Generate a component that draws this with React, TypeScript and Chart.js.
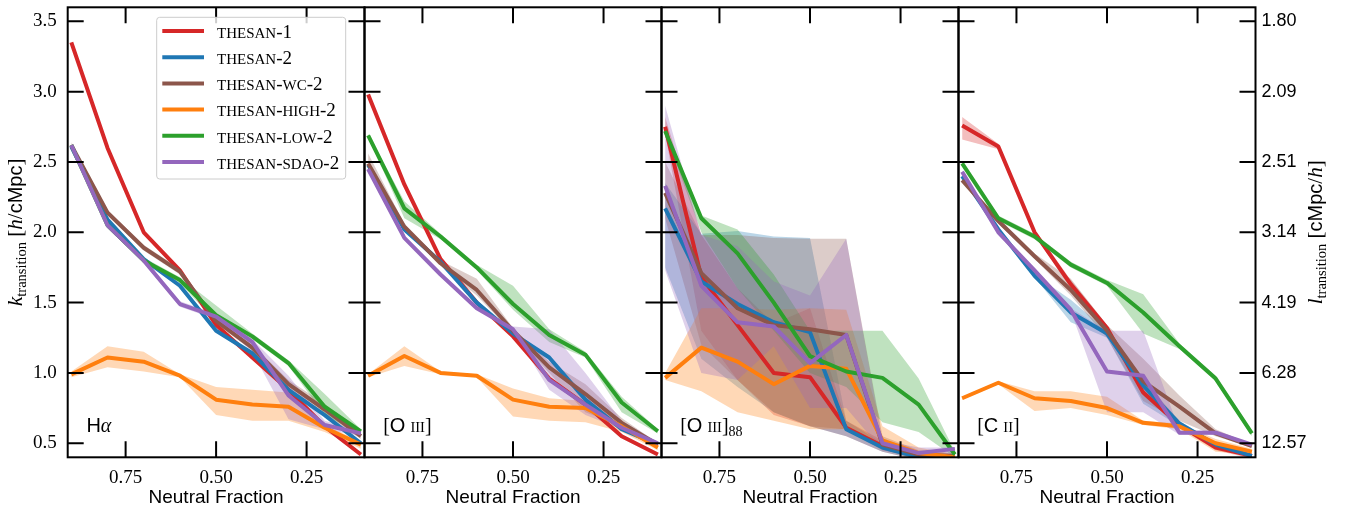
import React, { useEffect, useRef } from 'react';
import { Chart, registerables } from 'chart.js';

Chart.register(...registerables);

const W = 1349;
const H = 510;

// ---------- shared axes ----------
const neutralFraction = [0.9, 0.8, 0.7, 0.6, 0.5, 0.4, 0.3, 0.2, 0.1];
const xTicks = [0.75, 0.5, 0.25];
const yTicks = [0.5, 1.0, 1.5, 2.0, 2.5, 3.0, 3.5];
const rightTickLabels = ['12.57', '6.28', '4.19', '3.14', '2.51', '2.09', '1.80'];
const seriesNames = ['THESAN-1', 'THESAN-2', 'THESAN-WC-2', 'THESAN-HIGH-2', 'THESAN-LOW-2', 'THESAN-SDAO-2'];
const seriesColors = ['#d62728', '#1f77b4', '#8c564b', '#ff7f0e', '#2ca02c', '#9467bd'];

// ---------- panel 1: H-alpha ----------
const haThesan1 = [3.35, 2.60, 2.00, 1.73, 1.34, 1.11, 0.88, 0.62, 0.42];
const haThesan2 = [2.61, 2.09, 1.81, 1.62, 1.30, 1.14, 0.88, 0.70, 0.50];
const haWc2 = [2.62, 2.14, 1.89, 1.72, 1.37, 1.18, 0.92, 0.74, 0.55];
const haHigh2 = [0.99, 1.11, 1.08, 0.98, 0.81, 0.775, 0.76, 0.61, 0.49];
const haLow2 = [2.62, 2.05, 1.80, 1.66, 1.41, 1.26, 1.07, 0.76, 0.585];
const haSdao2 = [2.62, 2.05, 1.80, 1.49, 1.40, 1.22, 0.84, 0.63, 0.57];
const haHigh2Lo = [0.97, 1.04, 1.01, 0.97, 0.70, 0.66, 0.66, 0.58, 0.46];
const haHigh2Hi = [1.01, 1.19, 1.15, 0.99, 0.90, 0.88, 0.86, 0.63, 0.51];
const haLow2Lo = [2.61, 2.03, 1.78, 1.64, 1.36, 1.24, 1.05, 0.70, 0.56];
const haLow2Hi = [2.63, 2.07, 1.82, 1.68, 1.48, 1.28, 1.09, 0.85, 0.60];
const haSdao2Lo = [2.61, 2.03, 1.78, 1.47, 1.38, 1.15, 0.67, 0.60, 0.55];
const haSdao2Hi = [2.63, 2.07, 1.82, 1.51, 1.42, 1.24, 0.98, 0.66, 0.59];
const haWc2Lo = [2.60, 2.12, 1.87, 1.70, 1.35, 1.16, 0.88, 0.70, 0.53];
const haWc2Hi = [2.64, 2.16, 1.91, 1.74, 1.39, 1.20, 0.95, 0.78, 0.57];

// ---------- panel 2: [O III] ----------
const o3Thesan1 = [2.98, 2.34, 1.81, 1.50, 1.26, 0.96, 0.775, 0.55, 0.42];
const o3Thesan2 = [2.48, 2.02, 1.79, 1.50, 1.28, 1.11, 0.81, 0.60, 0.49];
const o3Wc2 = [2.49, 2.04, 1.78, 1.59, 1.30, 1.04, 0.85, 0.645, 0.49];
const o3High2 = [0.98, 1.12, 1.00, 0.98, 0.81, 0.76, 0.75, 0.62, 0.47];
const o3Low2 = [2.69, 2.17, 1.97, 1.75, 1.49, 1.27, 1.13, 0.79, 0.585];
const o3Sdao2 = [2.45, 1.96, 1.70, 1.46, 1.31, 0.95, 0.775, 0.61, 0.50];
const o3High2Lo = [0.97, 1.05, 0.99, 0.97, 0.69, 0.66, 0.65, 0.58, 0.45];
const o3High2Hi = [0.99, 1.19, 1.01, 0.99, 0.89, 0.82, 0.80, 0.66, 0.49];
const o3Low2Lo = [2.68, 2.10, 1.95, 1.73, 1.45, 1.22, 1.11, 0.72, 0.57];
const o3Low2Hi = [2.70, 2.22, 1.99, 1.77, 1.62, 1.31, 1.15, 0.83, 0.60];
const o3Sdao2Lo = [2.44, 1.95, 1.69, 1.45, 1.30, 0.88, 0.70, 0.60, 0.49];
const o3Sdao2Hi = [2.46, 1.97, 1.71, 1.47, 1.33, 1.31, 1.00, 0.66, 0.51];
const o3Wc2Lo = [2.47, 2.02, 1.76, 1.55, 1.28, 1.00, 0.72, 0.62, 0.48];
const o3Wc2Hi = [2.56, 2.06, 1.80, 1.67, 1.32, 1.08, 0.92, 0.68, 0.50];

// ---------- panel 3: [O III]88 ----------
const o88Thesan1 = [2.75, 1.68, 1.34, 1.00, 0.97, 0.61, 0.48, 0.41, 0.39];
const o88Thesan2 = [2.17, 1.65, 1.49, 1.36, 1.29, 0.60, 0.47, 0.40, 0.39];
const o88Wc2 = [2.28, 1.71, 1.46, 1.34, 1.31, 1.27, 0.49, 0.42, 0.41];
const o88High2 = [0.965, 1.18, 1.08, 0.92, 1.05, 1.03, 0.52, 0.43, 0.40];
const o88Low2 = [2.72, 2.10, 1.85, 1.50, 1.12, 1.01, 0.965, 0.775, 0.42];
const o88Sdao2 = [2.33, 1.62, 1.36, 1.33, 1.07, 1.27, 0.50, 0.43, 0.46];
const o88Thesan1Lo = [2.70, 1.30, 0.95, 0.70, 0.62, 0.55, 0.44, 0.38, 0.36];
const o88Thesan1Hi = [2.82, 1.98, 1.60, 1.35, 1.46, 0.66, 0.52, 0.44, 0.40];
const o88Thesan2Lo = [1.75, 1.10, 0.90, 0.72, 0.62, 0.55, 0.44, 0.38, 0.37];
const o88Thesan2Hi = [2.35, 1.99, 2.01, 1.97, 1.96, 0.66, 0.50, 0.42, 0.40];
const o88Wc2Lo = [2.10, 1.20, 0.95, 0.72, 0.62, 0.60, 0.45, 0.40, 0.39];
const o88Wc2Hi = [2.50, 1.98, 1.98, 1.96, 1.955, 1.955, 0.55, 0.45, 0.43];
const o88High2Lo = [0.95, 0.87, 0.72, 0.66, 0.60, 0.60, 0.46, 0.38, 0.37];
const o88High2Hi = [1.00, 1.46, 1.46, 1.45, 1.46, 1.45, 0.62, 0.47, 0.42];
const o88Low2Lo = [2.70, 2.00, 1.60, 1.30, 1.00, 0.90, 0.65, 0.58, 0.40];
const o88Low2Hi = [2.74, 2.12, 2.02, 1.70, 1.30, 1.30, 1.30, 0.96, 0.44];
const o88Sdao2Lo = [1.73, 1.00, 0.95, 1.19, 0.75, 0.75, 0.45, 0.41, 0.42];
const o88Sdao2Hi = [2.90, 1.98, 1.90, 1.65, 1.55, 1.955, 0.52, 0.47, 0.47];

// ---------- panel 4: [C II] ----------
const c2Thesan1 = [2.76, 2.61, 2.00, 1.63, 1.32, 0.86, 0.63, 0.47, 0.41];
const c2Thesan2 = [2.40, 2.02, 1.69, 1.43, 1.28, 0.91, 0.64, 0.49, 0.41];
const c2Wc2 = [2.37, 2.08, 1.83, 1.59, 1.30, 0.94, 0.76, 0.57, 0.48];
const c2High2 = [0.82, 0.93, 0.82, 0.80, 0.75, 0.645, 0.62, 0.50, 0.44];
const c2Low2 = [2.49, 2.10, 1.97, 1.77, 1.64, 1.43, 1.19, 0.96, 0.57];
const c2Sdao2 = [2.43, 2.00, 1.73, 1.45, 1.01, 0.98, 0.575, 0.575, 0.49];
const c2Thesan1Lo = [2.66, 2.59, 1.98, 1.60, 1.30, 0.84, 0.61, 0.45, 0.39];
const c2Thesan1Hi = [2.82, 2.63, 2.02, 1.66, 1.34, 0.88, 0.65, 0.49, 0.43];
const c2Thesan2Lo = [2.39, 2.01, 1.68, 1.36, 1.25, 0.78, 0.62, 0.48, 0.40];
const c2Thesan2Hi = [2.41, 2.03, 1.70, 1.52, 1.30, 0.95, 0.66, 0.50, 0.42];
const c2Wc2Lo = [2.36, 2.06, 1.81, 1.55, 1.25, 0.80, 0.66, 0.55, 0.47];
const c2Wc2Hi = [2.38, 2.10, 1.85, 1.67, 1.34, 1.10, 0.84, 0.60, 0.49];
const c2High2Lo = [0.81, 0.92, 0.73, 0.75, 0.70, 0.63, 0.60, 0.44, 0.42];
const c2High2Hi = [0.83, 0.94, 0.87, 0.87, 0.83, 0.66, 0.64, 0.53, 0.46];
const c2Low2Lo = [2.48, 2.08, 1.95, 1.75, 1.62, 1.28, 1.17, 0.94, 0.55];
const c2Low2Hi = [2.50, 2.12, 1.99, 1.79, 1.66, 1.56, 1.21, 0.98, 0.59];
const c2Sdao2Lo = [2.42, 1.99, 1.72, 1.44, 0.72, 0.72, 0.56, 0.56, 0.48];
const c2Sdao2Hi = [2.44, 2.01, 1.74, 1.46, 1.30, 1.30, 0.59, 0.59, 0.50];

// ---------- fonts / text helpers ----------
const SERIF = '"Liberation Serif", "DejaVu Serif", serif';
const SANS = '"Liberation Sans", "DejaVu Sans", sans-serif';

type Part = { t: string; f: string; dy?: number };

const serif = (s: number, italic = false) => `${italic ? 'italic ' : ''}${s}px ${SERIF}`;
const sans = (s: number) => `${s}px ${SANS}`;

function partsWidth(ctx: CanvasRenderingContext2D, parts: Part[]) {
  let w = 0;
  for (const p of parts) {
    ctx.font = p.f;
    w += ctx.measureText(p.t).width;
  }
  return w;
}

function drawParts(ctx: CanvasRenderingContext2D, parts: Part[], x: number, y: number) {
  let cx = x;
  for (const p of parts) {
    ctx.font = p.f;
    ctx.fillText(p.t, cx, y + (p.dy || 0));
    cx += ctx.measureText(p.t).width;
  }
}

function smallCaps(text: string, big: number, small: number): Part[] {
  const out: Part[] = [];
  for (const ch of text) {
    const f = /[A-Z]/.test(ch) ? serif(small) : serif(big);
    const last = out[out.length - 1];
    if (last && last.f === f) last.t += ch;
    else out.push({ t: ch, f });
  }
  return out;
}

function rgba(hex: string, a: number) {
  const n = parseInt(hex.slice(1), 16);
  return `rgba(${(n >> 16) & 255},${(n >> 8) & 255},${n & 255},${a})`;
}

// ---------- panels ----------
type Band = [number[], number[]] | null;
interface PanelDef {
  lines: number[][];
  bands: Band[];
  label: Part[];
  left: number;
  right: number;
  showLeft: boolean;
  showRight: boolean;
  legend: boolean;
}

const PLOT_TOP = 7.3;
const PLOT_BOTTOM = 457.3;

const panels: PanelDef[] = [
  {
    lines: [haThesan1, haThesan2, haWc2, haHigh2, haLow2, haSdao2],
    bands: [null, null, [haWc2Lo, haWc2Hi], [haHigh2Lo, haHigh2Hi], [haLow2Lo, haLow2Hi], [haSdao2Lo, haSdao2Hi]],
    label: [
      { t: 'H', f: sans(20) },
      { t: 'α', f: serif(20, true) },
    ],
    left: 67.7,
    right: 364.5,
    showLeft: true,
    showRight: false,
    legend: true,
  },
  {
    lines: [o3Thesan1, o3Thesan2, o3Wc2, o3High2, o3Low2, o3Sdao2],
    bands: [null, null, [o3Wc2Lo, o3Wc2Hi], [o3High2Lo, o3High2Hi], [o3Low2Lo, o3Low2Hi], [o3Sdao2Lo, o3Sdao2Hi]],
    label: [
      { t: '[', f: serif(20) },
      { t: 'O', f: sans(20) },
      { t: ' ', f: serif(20) },
      { t: 'III', f: serif(14.5) },
      { t: ']', f: serif(20) },
    ],
    left: 364.5,
    right: 661.5,
    showLeft: false,
    showRight: false,
    legend: false,
  },
  {
    lines: [o88Thesan1, o88Thesan2, o88Wc2, o88High2, o88Low2, o88Sdao2],
    bands: [
      [o88Thesan1Lo, o88Thesan1Hi],
      [o88Thesan2Lo, o88Thesan2Hi],
      [o88Wc2Lo, o88Wc2Hi],
      [o88High2Lo, o88High2Hi],
      [o88Low2Lo, o88Low2Hi],
      [o88Sdao2Lo, o88Sdao2Hi],
    ],
    label: [
      { t: '[', f: serif(20) },
      { t: 'O', f: sans(20) },
      { t: ' ', f: serif(20) },
      { t: 'III', f: serif(14.5) },
      { t: ']', f: serif(20) },
      { t: '88', f: serif(14), dy: 4 },
    ],
    left: 661.5,
    right: 958.5,
    showLeft: false,
    showRight: false,
    legend: false,
  },
  {
    lines: [c2Thesan1, c2Thesan2, c2Wc2, c2High2, c2Low2, c2Sdao2],
    bands: [
      [c2Thesan1Lo, c2Thesan1Hi],
      [c2Thesan2Lo, c2Thesan2Hi],
      [c2Wc2Lo, c2Wc2Hi],
      [c2High2Lo, c2High2Hi],
      [c2Low2Lo, c2Low2Hi],
      [c2Sdao2Lo, c2Sdao2Hi],
    ],
    label: [
      { t: '[', f: serif(20) },
      { t: 'C', f: sans(20) },
      { t: ' ', f: serif(20) },
      { t: 'II', f: serif(14.5) },
      { t: ']', f: serif(20) },
    ],
    left: 958.5,
    right: 1255.5,
    showLeft: false,
    showRight: true,
    legend: false,
  },
];

const leftTitle: Part[] = [
  { t: 'k', f: serif(21, true) },
  { t: 'transition', f: serif(14.5), dy: 4 },
  { t: ' [', f: serif(21) },
  { t: 'h', f: serif(21, true) },
  { t: '/', f: serif(21) },
  { t: 'cMpc', f: sans(20) },
  { t: ']', f: serif(21) },
];

const rightTitle: Part[] = [
  { t: 'l', f: serif(21, true) },
  { t: 'transition', f: serif(14.5), dy: 4 },
  { t: ' [', f: serif(21) },
  { t: 'cMpc', f: sans(20) },
  { t: '/', f: serif(21) },
  { t: 'h', f: serif(21, true) },
  { t: ']', f: serif(21) },
];

const TICK_LEN = 16;

function makeDecor(p: PanelDef) {
  return {
    id: 'decor',
    afterDraw(chart: any) {
      const ctx: CanvasRenderingContext2D = chart.ctx;
      const a = chart.chartArea;
      const xs = chart.scales.x;
      const ys = chart.scales.y;
      ctx.save();
      // inward ticks on all four sides
      ctx.strokeStyle = '#000';
      ctx.lineWidth = 2;
      ctx.lineCap = 'butt';
      ctx.beginPath();
      for (const v of xTicks) {
        const px = xs.getPixelForValue(v);
        ctx.moveTo(px, a.bottom);
        ctx.lineTo(px, a.bottom - TICK_LEN);
        ctx.moveTo(px, a.top);
        ctx.lineTo(px, a.top + TICK_LEN);
      }
      for (const v of yTicks) {
        const py = ys.getPixelForValue(v);
        ctx.moveTo(a.left, py);
        ctx.lineTo(a.left + TICK_LEN, py);
        ctx.moveTo(a.right, py);
        ctx.lineTo(a.right - TICK_LEN, py);
      }
      ctx.stroke();
      ctx.strokeRect(a.left, a.top, a.right - a.left, a.bottom - a.top);

      // panel label
      ctx.fillStyle = '#000';
      ctx.textAlign = 'left';
      ctx.textBaseline = 'alphabetic';
      drawParts(ctx, p.label, a.left + 18.7, a.bottom - 25);

      // axis titles
      if (p.showLeft) {
        ctx.save();
        ctx.translate(21.5, (a.top + a.bottom) / 2);
        ctx.rotate(-Math.PI / 2);
        const w = partsWidth(ctx, leftTitle);
        drawParts(ctx, leftTitle, -w / 2, 0);
        ctx.restore();
      }
      if (p.showRight) {
        ctx.save();
        ctx.translate(1322, (a.top + a.bottom) / 2);
        ctx.rotate(-Math.PI / 2);
        const w = partsWidth(ctx, rightTitle);
        drawParts(ctx, rightTitle, -w / 2, 0);
        ctx.restore();
      }

      // legend
      if (p.legend) {
        const lx = a.left + 89;
        const ly = a.top + 10;
        const lw = 189;
        const lh = 161.7;
        ctx.beginPath();
        (ctx as any).roundRect(lx, ly, lw, lh, 3);
        ctx.fillStyle = 'rgba(255,255,255,0.8)';
        ctx.fill();
        ctx.strokeStyle = '#cccccc';
        ctx.lineWidth = 1;
        ctx.stroke();
        seriesNames.forEach((name, i) => {
          const ry = ly + 13.7 + i * 26.2;
          ctx.strokeStyle = seriesColors[i];
          ctx.lineWidth = 4;
          ctx.beginPath();
          ctx.moveTo(lx + 5.6, ry);
          ctx.lineTo(lx + 47.3, ry);
          ctx.stroke();
          ctx.fillStyle = '#000';
          drawParts(ctx, smallCaps(name, 19, 15), lx + 60.3, ry + 6.7);
        });
      }
      ctx.restore();
    },
  };
}

function buildConfig(p: PanelDef): any {
  const datasets: any[] = [];
  p.lines.forEach((_, i) => {
    const band = p.bands[i];
    if (!band) return;
    datasets.push({
      data: neutralFraction.map((x, k) => ({ x, y: band[0][k] })),
      borderWidth: 0,
      borderColor: 'rgba(0,0,0,0)',
      pointRadius: 0,
      fill: false,
      order: 20 + (5 - i),
    });
    datasets.push({
      data: neutralFraction.map((x, k) => ({ x, y: band[1][k] })),
      borderWidth: 0,
      borderColor: 'rgba(0,0,0,0)',
      backgroundColor: rgba(seriesColors[i], 0.3),
      pointRadius: 0,
      fill: '-1',
      order: 20 + (5 - i),
    });
  });
  p.lines.forEach((vals, i) => {
    datasets.push({
      label: seriesNames[i],
      data: neutralFraction.map((x, k) => ({ x, y: vals[k] })),
      borderColor: seriesColors[i],
      backgroundColor: seriesColors[i],
      borderWidth: 4,
      borderJoinStyle: 'round',
      pointRadius: 0,
      fill: false,
      tension: 0,
      order: 5 - i,
    });
  });

  const noVerticalPad = (s: any) => {
    s.paddingTop = 0;
    s.paddingBottom = 0;
  };

  const scales: any = {
    x: {
      type: 'linear',
      reverse: true,
      min: 0.09,
      max: 0.91,
      afterBuildTicks: (s: any) => {
        s.ticks = xTicks.map((v) => ({ value: v }));
      },
      afterFit: (s: any) => {
        s.height = H - PLOT_BOTTOM;
        s.paddingLeft = 0;
        s.paddingRight = 0;
      },
      ticks: {
        callback: (v: any) => Number(v).toFixed(2),
        font: { family: SERIF, size: 19 },
        color: '#000',
        padding: 9,
        maxRotation: 0,
        autoSkip: false,
      },
      grid: { display: false, drawTicks: false },
      border: { display: false },
      title: {
        display: true,
        text: 'Neutral Fraction',
        color: '#000',
        font: { family: SANS, size: 19, lineHeight: 1.2 },
        padding: { top: 0, bottom: 1 },
      },
    },
    y: {
      type: 'linear',
      min: 0.4,
      max: 3.6,
      display: p.showLeft,
      position: 'left',
      afterBuildTicks: (s: any) => {
        s.ticks = yTicks.map((v) => ({ value: v }));
      },
      afterFit: (s: any) => {
        s.width = p.showLeft ? p.left : 0;
        noVerticalPad(s);
      },
      ticks: {
        callback: (v: any) => Number(v).toFixed(1),
        font: { family: SERIF, size: 19 },
        color: '#000',
        padding: 11,
        autoSkip: false,
      },
      grid: { display: false, drawTicks: false },
      border: { display: false },
    },
  };
  if (p.showRight) {
    scales.y2 = {
      type: 'linear',
      min: 0.4,
      max: 3.6,
      position: 'right',
      afterBuildTicks: (s: any) => {
        s.ticks = yTicks.map((v) => ({ value: v }));
      },
      afterFit: (s: any) => {
        s.width = W - p.right;
        noVerticalPad(s);
      },
      ticks: {
        callback: (v: any) => rightTickLabels[yTicks.indexOf(Number(v))] ?? '',
        font: { family: SANS, size: 18 },
        color: '#000',
        padding: 6,
        autoSkip: false,
      },
      grid: { display: false, drawTicks: false },
      border: { display: false },
    };
  }

  return {
    type: 'line',
    data: { datasets },
    options: {
      responsive: false,
      animation: false,
      devicePixelRatio: 1,
      events: [],
      layout: {
        padding: {
          top: PLOT_TOP,
          bottom: 0,
          left: p.showLeft ? 0 : p.left,
          right: p.showRight ? 0 : W - p.right,
        },
      },
      plugins: {
        legend: { display: false },
        tooltip: { enabled: false },
        title: { display: false },
      },
      scales,
    },
    plugins: [makeDecor(p)],
  };
}

export default function App() {
  const canvases = useRef<(HTMLCanvasElement | null)[]>([]);
  useEffect(() => {
    const charts = panels.map((p, k) => new Chart(canvases.current[k] as HTMLCanvasElement, buildConfig(p)));
    return () => charts.forEach((c) => c.destroy());
  }, []);
  return (
    <div style={{ position: 'fixed', left: 0, top: 0, width: W, height: H, background: '#ffffff' }}>
      {panels.map((_, k) => (
        <canvas
          key={k}
          ref={(el) => {
            canvases.current[k] = el;
          }}
          width={W}
          height={H}
          style={{ position: 'absolute', left: 0, top: 0, width: W, height: H }}
        />
      ))}
    </div>
  );
}
